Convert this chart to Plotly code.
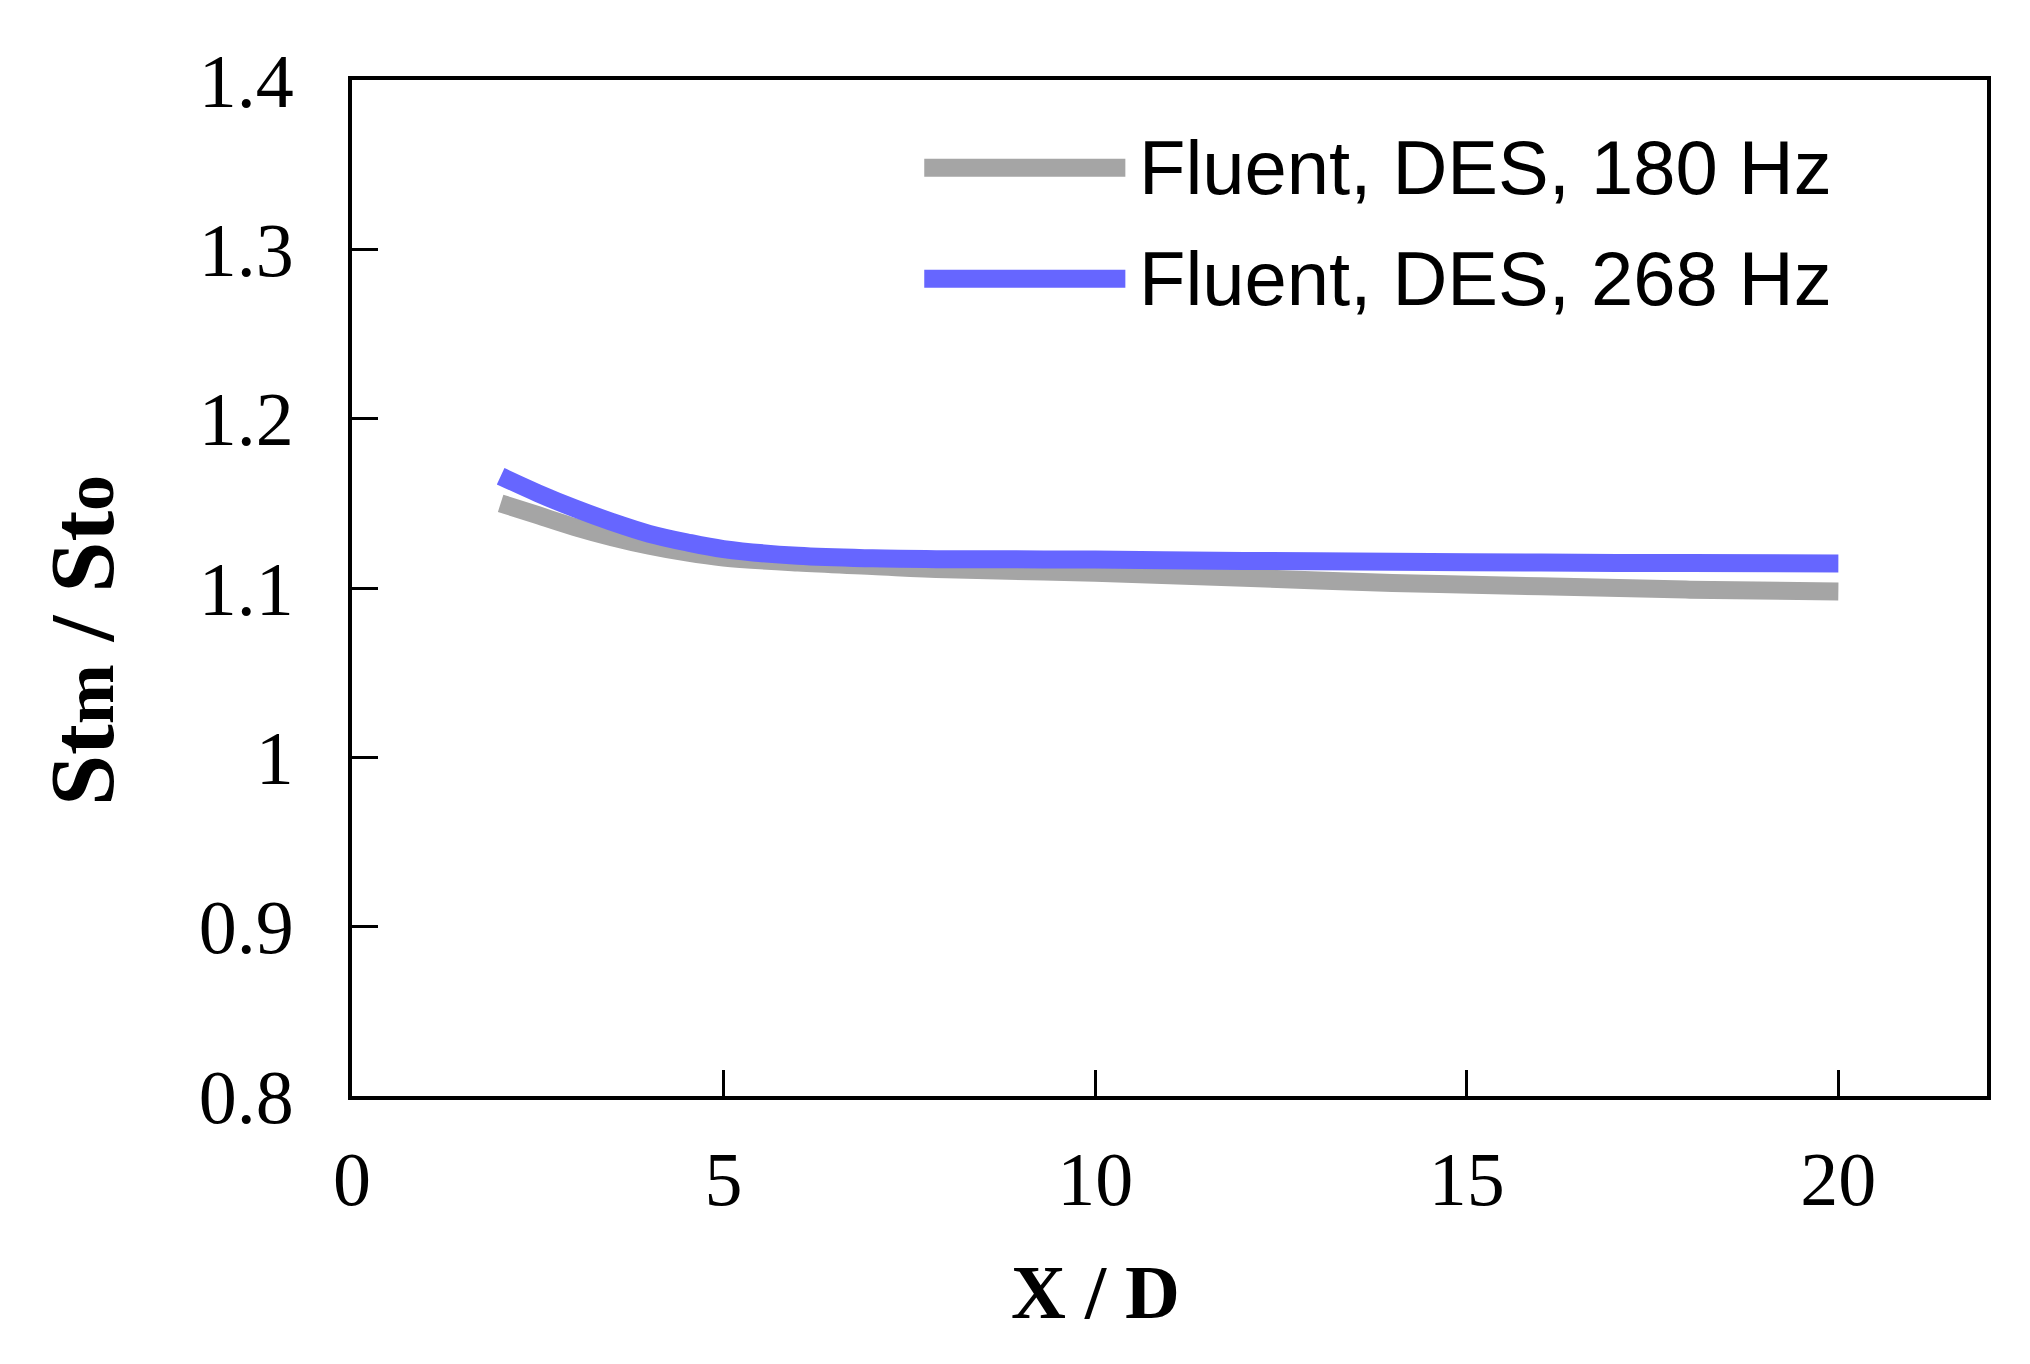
import plotly.graph_objects as go

# X/D positions and Stm/Sto ratios
x_d = [2, 2.5, 3, 3.5, 4, 4.5, 5, 6, 7, 8, 10, 12, 14, 16, 18, 20]
st_180hz = [1.150, 1.143, 1.136, 1.130, 1.125, 1.121, 1.118, 1.115, 1.113,
            1.111, 1.109, 1.106, 1.103, 1.101, 1.099, 1.098]
st_268hz = [1.166, 1.156, 1.147, 1.139, 1.132, 1.127, 1.123, 1.119, 1.1175,
            1.117, 1.1168, 1.116, 1.1155, 1.115, 1.1147, 1.1145]

series_names = ['Fluent, DES, 180 Hz', 'Fluent, DES, 268 Hz']
series_colors = ['#a5a5a5', '#6666ff']

x_ticks = [0, 5, 10, 15, 20]
y_ticks = [0.8, 0.9, 1.0, 1.1, 1.2, 1.3, 1.4]

fig = go.Figure()
for ys, name, color in zip([st_180hz, st_268hz], series_names, series_colors):
    fig.add_trace(go.Scatter(x=x_d, y=ys, mode='lines', name=name,
                             line=dict(color=color, width=18, shape='spline'),
                             showlegend=False))

tick_font = dict(family='Liberation Serif, Times New Roman, serif', size=76, color='black')
axis_common = dict(showline=True, linecolor='black', linewidth=4, mirror=True,
                   ticks='inside', ticklen=26, tickwidth=3, tickcolor='black',
                   showgrid=False, zeroline=False, tickfont=tick_font)

fig.update_xaxes(range=[0, 22], tickvals=x_ticks, ticklabelstandoff=14, **axis_common)
fig.update_yaxes(range=[0.8, 1.4], tickvals=y_ticks, ticklabelstandoff=39, **axis_common)

# hand-drawn legend (long line samples like the original)
legend_y = [0.9136, 0.8045]
for yy, name, color in zip(legend_y, series_names, series_colors):
    fig.add_shape(type='line', xref='paper', yref='paper', x0=0.350, x1=0.473,
                  y0=yy, y1=yy, line=dict(color=color, width=18))
    fig.add_annotation(xref='paper', yref='paper', x=0.480, y=yy, text=name,
                       showarrow=False, xanchor='left', yanchor='middle',
                       font=dict(family='Liberation Sans, Arial, sans-serif', size=76, color='black'))

# axis titles
fig.add_annotation(xref='x', yref='paper', x=10, y=-0.193, text='<b>X / D</b>',
                   showarrow=False, xanchor='center', yanchor='middle',
                   font=dict(family='Liberation Serif, Times New Roman, serif', size=76, color='black'))
fig.add_annotation(xref='paper', yref='paper', x=-0.165, y=0.448, textangle=-90,
                   text="<b>St</b><span style='font-size:72px'><b>m</b></span><b> / St</b>"
                        "<span style='font-size:72px'><b>o</b></span>",
                   showarrow=False, xanchor='center', yanchor='middle',
                   font=dict(family='Liberation Serif, Times New Roman, serif', size=92, color='black'))

fig.update_layout(width=2030, height=1364, paper_bgcolor='white', plot_bgcolor='white',
                  margin=dict(l=344, r=51, t=72, b=276))

fig.write_html("out.html")
